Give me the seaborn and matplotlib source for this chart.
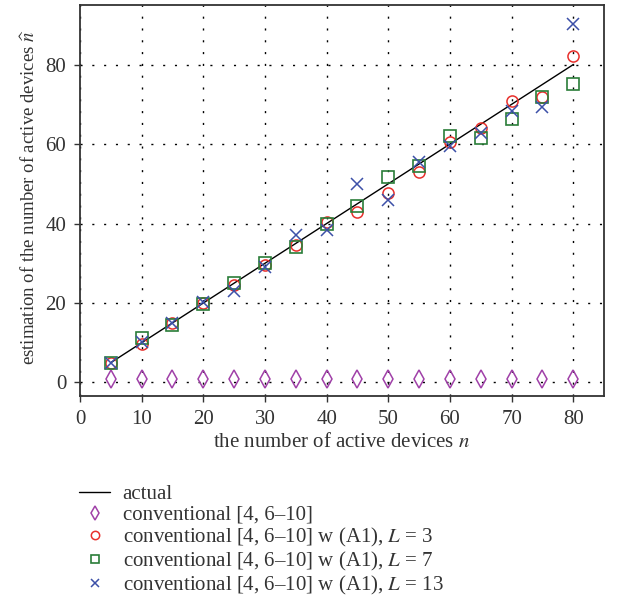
import numpy as np
import pandas as pd
import matplotlib
matplotlib.use("Agg")
import matplotlib.pyplot as plt
import seaborn as sns

# number of active devices
n_actual = [5, 10, 15, 20, 25, 30, 35, 40, 45, 50, 55, 60, 65, 70, 75, 80]

# estimates produced by each scheme
est_conventional = [1, 1, 1, 1, 1, 1, 1, 1, 1, 1, 1, 1, 1, 1, 1, 1]
est_L3 = [5, 9.7, 15, 20, 24.5, 29.5, 34.5, 40.5, 43, 47.8, 53, 60.5, 64, 70.8, 71.8, 82.2]
est_L7 = [5, 11.1, 14.5, 19.8, 25, 30, 34.2, 39.8, 44.5, 51.8, 54.5, 62, 61.5, 66.2, 71.8, 75]
est_L13 = [5, 10.2, 15, 20.3, 23, 29, 37, 38.4, 50, 45.9, 55.5, 59.5, 62.8, 68.2, 69.3, 90.2]

labels = [
    "actual",
    "conventional [4, 6\u201310]",
    "conventional [4, 6\u201310] w (A1), $L$ = 3",
    "conventional [4, 6\u201310] w (A1), $L$ = 7",
    "conventional [4, 6\u201310] w (A1), $L$ = 13",
]

sns.set_theme(style="ticks")
plt.rcParams["font.family"] = ["Liberation Serif", "DejaVu Serif"]
plt.rcParams["mathtext.fontset"] = "stix"

fig = plt.figure(figsize=(6.17, 5.97), dpi=100)
ax = fig.add_axes([0.1297, 0.3367, 0.979 - 0.1297, 0.9916 - 0.3367])

df = pd.DataFrame({
    "n": n_actual,
    "conv": est_conventional,
    "L3": est_L3,
    "L7": est_L7,
    "L13": est_L13,
})

sns.lineplot(data=df, x="n", y="n", ax=ax, color="black", linewidth=1.0,
             label=labels[0])
sns.lineplot(data=df, x="n", y="conv", ax=ax, linestyle="", marker="d",
             markersize=9, markerfacecolor="none", markeredgecolor="#a040a8",
             markeredgewidth=1.1, color="#a040a8", label=labels[1])
sns.lineplot(data=df, x="n", y="L3", ax=ax, linestyle="", marker="o",
             markersize=8, markerfacecolor="none", markeredgecolor="#e8302c",
             markeredgewidth=1.1, color="#e8302c", label=labels[2])
sns.lineplot(data=df, x="n", y="L7", ax=ax, linestyle="", marker="s",
             markersize=8, markerfacecolor="none", markeredgecolor="#2a7d38",
             markeredgewidth=1.2, color="#2a7d38", label=labels[3])
sns.lineplot(data=df, x="n", y="L13", ax=ax, linestyle="", marker="x",
             markersize=8, markeredgecolor="#3c50a8",
             markeredgewidth=1.1, color="#3c50a8", label=labels[4])

ax.set_xlim(0, 85)
ax.set_ylim(-3.4, 95)
ax.set_xticks(np.arange(0, 81, 10))
ax.set_yticks(np.arange(0, 81, 20))
ax.grid(True, color="black", linestyle=(0, (1.5, 7)), linewidth=1.0)

for side in ["left", "right", "top", "bottom"]:
    ax.spines[side].set_visible(True)
    ax.spines[side].set_color("#333333")
    ax.spines[side].set_linewidth(1.3)

ax.tick_params(direction="out", length=4, width=1.0, color="#333333",
               labelsize=15, labelcolor="#333333", pad=6)

ax.set_xlabel("the number of active devices $n$", fontsize=15,
              color="#333333", labelpad=3)
ax.set_ylabel(r"estimation of the number of active devices $\widehat{n}$",
              fontsize=13.5, color="#333333")
ax.yaxis.set_label_coords(-0.078, 0.509)

handles, labs = ax.get_legend_handles_labels()
ax.get_legend().remove()
fig.legend(handles, labs, loc="upper left", bbox_to_anchor=(0.128, 0.188),
           frameon=False, fontsize=15, handlelength=1.5, handletextpad=0.6,
           labelspacing=0.05, borderaxespad=0, borderpad=0,
           markerscale=0.75, labelcolor="#333333")

fig.savefig("out.png", dpi=100)
